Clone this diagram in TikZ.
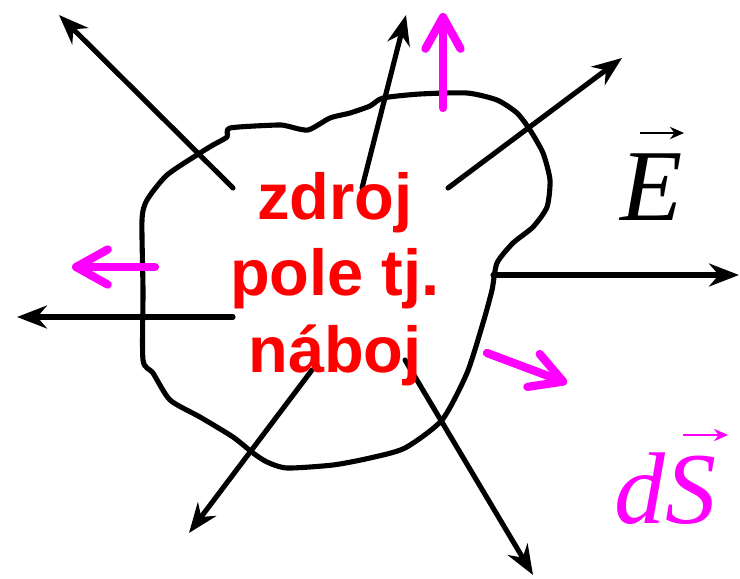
\documentclass[tikz,border=0pt]{standalone}
\usepackage{fontspec}
\setmainfont{Liberation Sans}
\newfontfamily\timesfont{Liberation Serif}
\usetikzlibrary{arrows.meta}
\definecolor{fieldpink}{RGB}{255,0,255}
\tikzset{
  fieldline/.style={line width=2.9pt, line cap=round, -{Stealth[length=17pt,width=13pt,inset=5.5pt]}},
  normalvec/.style={fieldpink, line width=4.7pt, line cap=round, -{Straight Barb[length=18pt,width=20pt,round]}},
  veclabel/.style={inner sep=0pt, anchor=base, font=\timesfont\itshape\fontsize{58}{60}\selectfont}
}
\begin{document}
\begin{tikzpicture}[x=0.02cm,y=-0.02cm]
    \useasboundingbox (0,0) rectangle (740,578);
    % closed surface
    \draw[line width=2.9pt, line join=round] plot[smooth cycle, tension=0.4] coordinates {
      (230,128) (277,125) (287,126) (308,130) (330,118) (350,113) (370,106)
      (383,98) (420,94) (467,93) (497,100) (517,113) (530,130) (543,153)
      (550,180) (547,207) (533,227) (513,243) (497,263) (492,290) (483,323)
      (467,373) (442,420) (405,448) (370,458) (333,465) (287,468) (267,462)
      (253,453) (233,437) (200,417) (170,400) (153,373) (143,360) (143,290)
      (142,220) (147,200) (167,175) (200,153) (213,145) (227,137)};
    % field lines
    \draw[fieldline] (233,188) -- (59,15);
    \draw[fieldline] (362,188) -- (406,15);
    \draw[fieldline] (448,188) -- (622,58);
    \draw[fieldline] (493,275) -- (739,275);
    \draw[fieldline] (233,317) -- (17,317);
    \draw[fieldline] (312,370) -- (189,533);
    \draw[fieldline] (405,360) -- (533,575);
    % surface normals
    \draw[normalvec] (443,108) -- (443,13);
    \draw[normalvec] (155,267) -- (72,267);
    \draw[normalvec] (487,353) -- (567,383);
    % labels
    \node[text=red, font=\bfseries\fontsize{37}{43.7}\selectfont, align=center, inner sep=0pt] (source) at (335,279) {zdroj\\pole tj.\\náboj};
    \node[veclabel] (field) at (652,220) {E};
    \draw[line width=1.2pt, -{Stealth[length=8pt,width=7pt]}] (640,133) -- (684,133);
    \node[veclabel, text=fieldpink, anchor=base west] (area) at (614,523) {dS};
    \draw[fieldpink, line width=1.2pt, -{Stealth[length=8pt,width=7pt]}] (683,435) -- (728,435);
\end{tikzpicture}
\end{document}
